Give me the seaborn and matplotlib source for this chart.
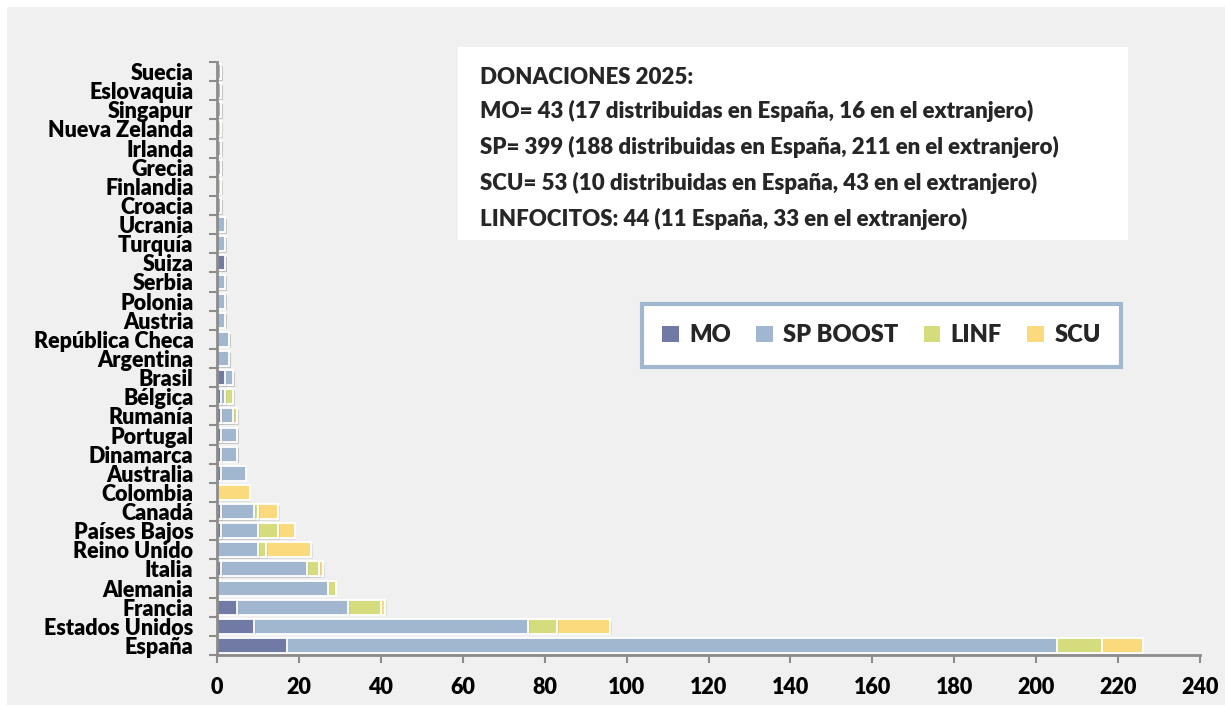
import matplotlib
matplotlib.use("Agg")
import matplotlib.pyplot as plt
import seaborn as sns
import numpy as np
import pandas as pd
from matplotlib.patches import Rectangle, Patch
import matplotlib.patheffects as pe

# ---------------- data ----------------
paises = ["Suecia", "Eslovaquia", "Singapur", "Nueva Zelanda", "Irlanda", "Grecia",
          "Finlandia", "Croacia", "Ucrania", "Turquía", "Suiza", "Serbia", "Polonia",
          "Austria", "República Checa", "Argentina", "Brasil", "Bélgica", "Rumanía",
          "Portugal", "Dinamarca", "Australia", "Colombia", "Canadá", "Países Bajos",
          "Reino Unido", "Italia", "Alemania", "Francia", "Estados Unidos", "España"]
mo   = [0, 0, 0, 0, 0, 0, 0, 0, 0, 0, 2, 0, 0, 0, 0, 0, 2, 1, 1, 1, 1, 1, 0, 1, 1, 0, 1, 0, 5, 9, 17]
sp   = [1, 1, 1, 0, 1, 1, 0, 1, 2, 2, 0, 2, 2, 2, 3, 3, 2, 1, 3, 4, 4, 6, 0, 8, 9, 10, 21, 27, 27, 67, 188]
linf = [0, 0, 0, 1, 0, 0, 1, 0, 0, 0, 0, 0, 0, 0, 0, 0, 0, 2, 1, 0, 0, 0, 0, 1, 5, 2, 3, 2, 8, 7, 11]
scu  = [0, 0, 0, 0, 0, 0, 0, 0, 0, 0, 0, 0, 0, 0, 0, 0, 0, 0, 0, 0, 0, 0, 8, 5, 4, 11, 1, 0, 1, 13, 10]
series = ["MO", "SP BOOST", "LINF", "SCU"]
xticks = [0, 20, 40, 60, 80, 100, 120, 140, 160, 180, 200, 220, 240]
info_lines = ["DONACIONES 2025:",
              "MO= 43 (17 distribuidas en España, 16 en el extranjero)",
              "SP= 399 (188 distribuidas en España, 211 en el extranjero)",
              "SCU= 53 (10 distribuidas en España, 43 en el extranjero)",
              "LINFOCITOS: 44 (11 España, 33 en el extranjero)"]

colors = {"MO": "#717aa4", "SP BOOST": "#a0b7cf", "LINF": "#d5dc7d", "SCU": "#fbd97d"}

WEIGHT = "heavy"

sns.set_style("white")
plt.rcParams["font.family"] = ["Lato", "DejaVu Sans"]
plt.rcParams["font.weight"] = WEIGHT

W, H = 1225, 705
fig = plt.figure(figsize=(W / 100, H / 100), dpi=100)
fig.patch.set_facecolor("white")
fig.patches.append(Rectangle((7 / W, 0), 1, 1 - 7 / H, transform=fig.transFigure,
                             facecolor="#f0f0f0", edgecolor="none", zorder=-10))

ax = fig.add_axes([217 / W, 1 - 655 / H, 983 / W, 593 / H])
ax.set_facecolor("none")

df = pd.DataFrame({"pais": paises, "MO": mo, "SP BOOST": sp, "LINF": linf, "SCU": scu})
cum = df[series].cumsum(axis=1)

for s in reversed(series):
    sns.barplot(x=cum[s], y=df["pais"], order=paises, orient="h", color=colors[s],
                saturation=1, width=0.78, edgecolor="white", linewidth=1.3, ax=ax)

for p in ax.patches:
    p.set_path_effects([pe.SimplePatchShadow(offset=(1.2, -1.2), shadow_rgbFace="#9a9a9a", alpha=0.2),
                        pe.Normal()])

ax.set_xlim(0, 240)
ax.set_ylim(len(paises) - 0.5, -0.5)
ax.set_xticks(xticks)
ax.set_xticklabels([str(t) for t in xticks], fontsize=15.5, fontweight=WEIGHT)
ax.set_yticks(range(len(paises)))
ax.set_yticklabels(paises, fontsize=15.5, fontweight=WEIGHT)
ax.set_yticks(np.arange(-0.5, len(paises), 1), minor=True)
ax.set_xlabel("")
ax.set_ylabel("")

gray = "#8c8c8c"
for side in ["top", "right"]:
    ax.spines[side].set_visible(False)
for side in ["left", "bottom"]:
    ax.spines[side].set_color(gray)
    ax.spines[side].set_linewidth(2)
ax.tick_params(axis="y", which="major", length=0, pad=17, colors="black")
ax.tick_params(axis="y", which="minor", length=6, width=1.5, color=gray, left=True)
ax.tick_params(axis="x", which="major", length=6, width=1.5, color=gray, bottom=True, pad=10,
               labelcolor="black")
ax.grid(False)

# info box
fig.patches.append(Rectangle((458 / W, 1 - 240 / H), 670 / W, 193 / H, transform=fig.transFigure,
                             facecolor="white", edgecolor="none", zorder=1))
ys = [77, 111, 147, 183, 219]
for line, y in zip(info_lines, ys):
    fig.text(480 / W, 1 - y / H, line, fontsize=16, fontweight=WEIGHT, va="center", ha="left",
             zorder=2)

# legend
handles = [Patch(facecolor=colors[s], edgecolor="none") for s in series]
leg = ax.legend(handles, series, loc="center", ncol=4, mode="expand",
                bbox_to_anchor=(642 / W, 1 - 366 / H, 479 / W, 61 / H),
                bbox_transform=fig.transFigure, frameon=True, fancybox=False,
                prop={"size": 17, "weight": WEIGHT}, handlelength=0.7, handleheight=0.7,
                handletextpad=0.45, columnspacing=1.5, borderpad=0.85, borderaxespad=0)
leg.get_frame().set_edgecolor("#a0b7cf")
leg.get_frame().set_linewidth(3)
leg.get_frame().set_facecolor("white")
leg.get_frame().set_alpha(1)

fig.savefig("out.png", dpi=100, facecolor=fig.get_facecolor())
